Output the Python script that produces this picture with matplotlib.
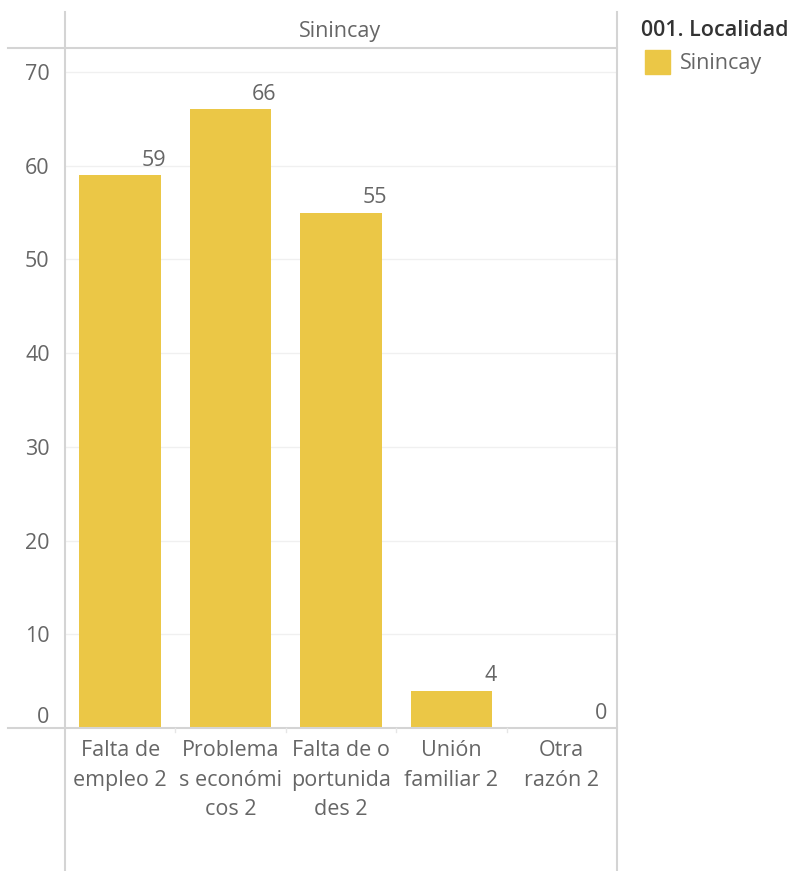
import matplotlib
matplotlib.use("Agg")
import matplotlib.pyplot as plt
from matplotlib.lines import Line2D
from matplotlib.patches import Rectangle

# data
categories = ["Falta de\nempleo 2", "Problema\ns económi\ncos 2", "Falta de o\nportunida\ndes 2",
              "Unión\nfamiliar 2", "Otra\nrazón 2"]
values = [59, 66, 55, 4, 0]
yticks = [0, 10, 20, 30, 40, 50, 60, 70]
panel = "Sinincay"
legend_title = "001. Localidad"

BAR = "#EBC746"
TXT = "#666666"
LINE = "#d4d4d4"
W, H = 794, 871
FS = 15.5

plt.rcParams['font.family'] = ['Open Sans', 'DejaVu Sans']

fig = plt.figure(figsize=(W / 100, H / 100), dpi=100)


def fx(px):
    return px / W


def fy(py):
    return 1 - py / H


def hline(x0, x1, y, color=LINE, lw=1.5):
    fig.add_artist(Line2D([fx(x0), fx(x1)], [fy(y), fy(y)], color=color, lw=lw,
                          transform=fig.transFigure))


def vline(x, y0, y1, color=LINE, lw=1.5):
    fig.add_artist(Line2D([fx(x), fx(x)], [fy(y0), fy(y1)], color=color, lw=lw,
                          transform=fig.transFigure))


left, right, top, zero = 65, 617, 48, 728
ymax = 70 * (zero - top) / (zero - 72)
ax = fig.add_axes([fx(left), fy(zero), fx(right - left), (zero - top) / H])

x = range(len(categories))
ax.bar(x, values, width=0.74, color=BAR, zorder=2)
for i, v in enumerate(values):
    ax.text(i + 0.415, v + 0.45, str(v), ha="right", va="bottom", fontsize=FS, color=TXT)

ax.set_xlim(-0.5, len(categories) - 0.5)
ax.set_ylim(0, ymax)
ax.set_yticks(yticks)
ax.set_yticklabels([str(t) for t in yticks])
ax.tick_params(axis="y", length=0, pad=11, labelsize=FS, labelcolor=TXT)
ax.set_xticks([])
for t in yticks[1:]:
    ax.axhline(t, color="#f0f0f0", lw=1, zorder=0)
for s in ax.spines.values():
    s.set_visible(False)
# bottom label sits above the zero line, the rest are centred on their gridline
ax.get_yticklabels()[0].set_verticalalignment("bottom")

# category labels below the zero line
for i, c in enumerate(categories):
    ax.text(i, -1.3, c, ha="center", va="top", fontsize=FS, color=TXT,
            linespacing=1.53, clip_on=False)

# frame lines
vline(left, 12, H)
vline(right, 12, H)
hline(8, right, top)
hline(8, right, zero)
for i in range(1, len(categories)):
    xb = left + i * (right - left) / len(categories)
    vline(xb, zero, zero + 4, color="#e6e6e6", lw=1)

fig.text(fx(340), fy(31), panel, ha="center", va="center", fontsize=FS, color=TXT)

# legend
fig.text(fx(641), fy(31), legend_title, ha="left", va="center", fontsize=15.5,
         color="#333333", fontweight="semibold")
fig.add_artist(Rectangle((fx(645), fy(74)), fx(25), 24 / H, color=BAR,
                         transform=fig.transFigure))
fig.text(fx(680), fy(63), panel, ha="left", va="center", fontsize=FS, color=TXT)

fig.savefig("out.png", dpi=100, facecolor="white")
